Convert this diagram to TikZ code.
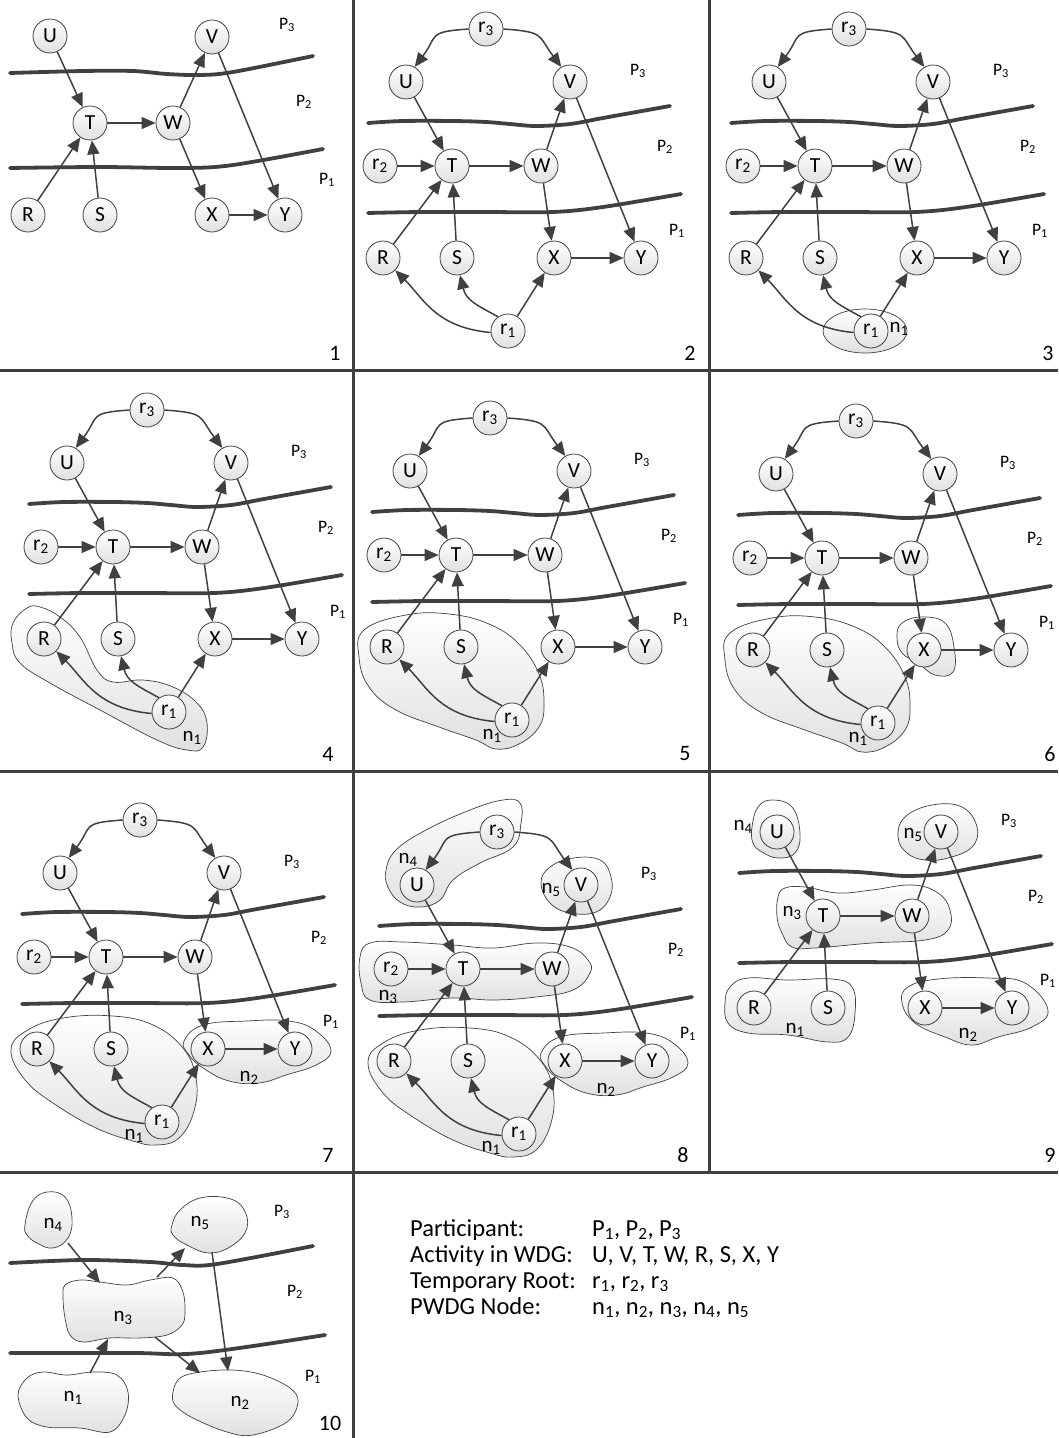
\documentclass[tikz,border=0pt]{standalone}
\usepackage{fontspec}
\setmainfont{Carlito}
\usetikzlibrary{arrows.meta}
\definecolor{dk}{RGB}{64,64,64}
\tikzset{
 vnode/.style={circle, draw=dk, line width=0.8pt, minimum size=34pt, inner sep=0pt, top color=white, bottom color=black!12, font=\fontsize{21.5}{21.5}\selectfont},
 arr/.style={draw=dk, line width=1.5pt, -{Triangle[length=14pt,width=12pt]}},
 part/.style={draw=dk, line width=3.8pt, line cap=round},
 gridline/.style={draw=dk, line width=3pt},
 blob/.style={draw=dk, line width=0.7pt, top color=white, bottom color=black!12},
 plab/.style={font=\fontsize{17.5}{17.5}\selectfont, inner sep=0pt},
 nlab/.style={font=\fontsize{21}{21}\selectfont, inner sep=0pt},
 num/.style={font=\fontsize{22}{22}\selectfont, inner sep=0pt},
 leg/.style={font=\fontsize{24.5}{24.5}\selectfont, inner sep=0pt, anchor=base west},
}
\newcommand{\wdgbase}[1]{%
 \draw[part] plot[smooth,tension=0.55] coordinates {(-84,-43) (-49,-45) (1,-45) (34,-44) (58,-42) (84,-40) (118,-42) (151,-48) (218,-60)};
 \draw[part] plot[smooth,tension=0.55] coordinates {(-84,47) (-32,46) (34,46) (101,46) (151,41) (229,28)};
 \node[plab] (#1P3) at (186,-95) {P\textsubscript{3}};
 \node[plab] (#1P2) at (213,-19) {P\textsubscript{2}};
 \node[plab] (#1P1) at (225,65) {P\textsubscript{1}};
}
\newcommand{\wdgcore}[1]{%
 \node[vnode] (#1U) at (-46,-84) {U};
 \node[vnode] (#1V) at (118,-84) {V};
 \node[vnode] (#1T) at (0,0) {T};
 \node[vnode] (#1W) at (89,0) {W};
 \node[vnode] (#1R) at (-69,92) {R};
 \node[vnode] (#1S) at (5,92) {S};
 \node[vnode] (#1X) at (102,92) {X};
 \node[vnode] (#1Y) at (189,92) {Y};
 \draw[arr] (#1U) -- (#1T);
 \draw[arr] (#1R) -- (#1T);
 \draw[arr] (#1S) -- (#1T);
 \draw[arr] (#1T) -- (#1W);
 \draw[arr] (#1W) -- (#1V);
 \draw[arr] (#1W) -- (#1X);
 \draw[arr] (#1V) -- (#1Y);
 \draw[arr] (#1X) -- (#1Y);
}
\newcommand{\wdgroots}[1]{%
 \node[vnode] (#1ra) at (56,165) {r\textsubscript{1}};
 \node[vnode] (#1rb) at (-72,0) {r\textsubscript{2}};
 \node[vnode] (#1rc) at (34,-137) {r\textsubscript{3}};
 \draw[arr] (#1rb) -- (#1T);
 \draw[arr] (#1rc.west) .. controls +(-42,3) and +(24,-32) .. (#1U.60);
 \draw[arr] (#1rc.east) .. controls +(42,3) and +(-24,-32) .. (#1V.120);
 \draw[arr] (#1ra.185) .. controls +(-55,-5) and +(28,28) .. (#1R.-45);
 \draw[arr] (#1ra.125) .. controls +(-22,-12) and +(6,25) .. (#1S.-80);
 \draw[arr] (#1ra) -- (#1X);
}
\newcommand{\blobAfour}{\draw[blob] plot[smooth cycle,tension=0.7] coordinates {(-100,76) (-86,61) (-73,60) (-53,70) (-33,90) (-16,123) (0,135) (30,133) (60,140) (84,156) (94,176) (90,200) (74,203) (44,193) (-13,163) (-63,136) (-93,116) (-101,96)};}
\newcommand{\blobAfive}{\draw[blob] plot[smooth cycle,tension=0.7] coordinates {(-92,75) (-50,60) (-7,59) (33,69) (63,89) (83,119) (88,149) (83,172) (63,189) (40,194) (20,185) (-17,172) (-60,155) (-87,132) (-97,102)};}
\newcommand{\blobAseven}{\draw[blob] plot[smooth cycle,tension=0.7] coordinates {(-95,94) (-80,74) (-43,61) (7,59) (47,68) (77,91) (90,121) (88,154) (73,181) (50,188) (27,184) (-10,171) (-50,148) (-80,124)};}
\newcommand{\blobB}{\draw[blob] plot[smooth cycle,tension=0.7] coordinates {(78,84) (97,68) (140,64) (183,64) (210,74) (225,94) (210,108) (180,118) (153,126) (123,124) (97,111) (83,98)};}
\begin{document}
\begin{tikzpicture}[x=1pt,y=-1pt]
\useasboundingbox (0,0) rectangle (1058,1438);
% grid
\draw[gridline] (353,0) -- (353,1438);
\draw[gridline] (709,0) -- (709,1172);
\draw[gridline] (0,370) -- (1058,370);
\draw[gridline] (0,771) -- (1058,771);
\draw[gridline] (0,1172) -- (1058,1172);
% panel numbers
\node[num] (k1) at (335,353) {1};
\node[num] (k2) at (690,353) {2};
\node[num] (k3) at (1048,353) {3};
\node[num] (k4) at (328,754) {4};
\node[num] (k5) at (685,754) {5};
\node[num] (k6) at (1050,754) {6};
\node[num] (k7) at (328,1155) {7};
\node[num] (k8) at (683,1155) {8};
\node[num] (k9) at (1050,1155) {9};
\node[num] (k10) at (330,1423) {10};
% ---------- panel 1
\draw[part] plot[smooth,tension=0.55] coordinates {(10,73) (83,71) (133,71) (167,74) (200,75) (233,72) (313,56)};
\draw[part] plot[smooth,tension=0.55] coordinates {(10,168) (100,167) (183,168) (233,165) (323,149)};
\node[plab] (aP3) at (287,25) {P\textsubscript{3}};
\node[plab] (aP2) at (304,102) {P\textsubscript{2}};
\node[plab] (aP1) at (327,180) {P\textsubscript{1}};
\node[vnode] (aU) at (50,36) {U};
\node[vnode] (aV) at (212,37) {V};
\node[vnode] (aT) at (90,123) {T};
\node[vnode] (aW) at (173,123) {W};
\node[vnode] (aR) at (28,215) {R};
\node[vnode] (aS) at (100,215) {S};
\node[vnode] (aX) at (212,215) {X};
\node[vnode] (aY) at (285,215) {Y};
\draw[arr] (aU) -- (aT);
\draw[arr] (aR) -- (aT);
\draw[arr] (aS) -- (aT);
\draw[arr] (aT) -- (aW);
\draw[arr] (aW) -- (aV);
\draw[arr] (aW) -- (aX);
\draw[arr] (aV) -- (aY);
\draw[arr] (aX) -- (aY);
% ---------- panel 2
\begin{scope}[shift={(452,166)}]
\wdgbase{b}
\wdgcore{b}
\wdgroots{b}
\end{scope}
% ---------- panel 3
\begin{scope}[shift={(815,166)}]
\wdgbase{c}
\draw[blob] (50,165) ellipse [x radius=42, y radius=22];
\node[nlab] (cn1) at (84,163) {n\textsubscript{1}};
\wdgcore{c}
\wdgroots{c}
\end{scope}
% ---------- panel 4
\begin{scope}[shift={(113,547)}]
\wdgbase{d}
\blobAfour
\node[nlab] (dn1) at (79,191) {n\textsubscript{1}};
\wdgcore{d}
\wdgroots{d}
\end{scope}
% ---------- panel 5
\begin{scope}[shift={(456,555)}]
\wdgbase{e}
\blobAfive
\node[nlab] (en1) at (36,181) {n\textsubscript{1}};
\wdgcore{e}
\wdgroots{e}
\end{scope}
% ---------- panel 6
\begin{scope}[shift={(822,558)}]
\wdgbase{f}
\blobAfive
\node[nlab] (fn1) at (36,181) {n\textsubscript{1}};
\draw[blob] plot[smooth cycle,tension=0.7] coordinates {(80,65) (100,59) (123,65) (132,89) (131,114) (113,117) (96,105) (80,95) (75,79)};
\wdgcore{f}
\wdgroots{f}
\end{scope}
% ---------- panel 7
\begin{scope}[shift={(106,957)}]
\wdgbase{g}
\blobAseven
\node[nlab] (gn1) at (28,179) {n\textsubscript{1}};
\blobB
\node[nlab] (gn2) at (143,121) {n\textsubscript{2}};
\wdgcore{g}
\wdgroots{g}
\end{scope}
% ---------- panel 8
\begin{scope}[shift={(463,969)}]
\wdgbase{h}
\blobAseven
\node[nlab] (hn1) at (28,179) {n\textsubscript{1}};
\blobB
\node[nlab] (hn2) at (143,121) {n\textsubscript{2}};
\draw[blob] plot[smooth cycle,tension=0.7] coordinates {(-103,-12) (-93,-26) (-60,-27) (-10,-24) (30,-21) (73,-26) (107,-22) (125,-9) (127,4) (110,21) (73,28) (30,31) (-10,29) (-60,33) (-93,31) (-102,14)};
\node[nlab] (hn3) at (-75,28) {n\textsubscript{3}};
\draw[blob] plot[smooth cycle,tension=0.7] coordinates {(-77,-99) (-67,-119) (-37,-139) (7,-159) (40,-169) (57,-166) (58,-146) (50,-122) (17,-106) (-10,-89) (-23,-69) (-43,-62) (-63,-67) (-75,-82)};
\node[nlab] (hn4) at (-55,-109) {n\textsubscript{4}};
\draw[blob] plot[smooth cycle,tension=0.7] coordinates {(78,-86) (87,-102) (110,-111) (137,-109) (148,-92) (147,-72) (133,-57) (107,-56) (87,-66)};
\node[nlab] (hn5) at (88,-79) {n\textsubscript{5}};
\wdgcore{h}
\wdgroots{h}
\end{scope}
% ---------- panel 9
\begin{scope}[shift={(823,916)}]
\wdgbase{i}
\draw[blob] plot[smooth cycle,tension=0.7] coordinates {(-71,-89) (-65,-109) (-51,-116) (-31,-109) (-23,-83) (-28,-63) (-45,-58) (-61,-64) (-70,-73)};
\node[nlab] (in4) at (-80,-89) {n\textsubscript{4}};
\draw[blob] plot[smooth cycle,tension=0.7] coordinates {(75,-79) (82,-99) (109,-111) (139,-109) (154,-89) (149,-69) (125,-58) (102,-56) (84,-63)};
\node[nlab] (in5) at (90,-81) {n\textsubscript{5}};
\draw[blob] plot[smooth cycle,tension=0.7] coordinates {(-45,-19) (-38,-28) (-18,-29) (15,-23) (49,-26) (89,-31) (115,-23) (127,-6) (125,14) (102,24) (49,27) (-8,32) (-31,31) (-41,17) (-46,1)};
\node[nlab] (in3) at (-31,-3) {n\textsubscript{3}};
\draw[blob] plot[smooth cycle,tension=0.7] coordinates {(-98,87) (-93,71) (-75,62) (-35,64) (9,63) (29,71) (32,97) (25,121) (5,126) (-35,119) (-75,117) (-95,107)};
\node[nlab] (in1) at (-28,114) {n\textsubscript{1}};
\draw[blob] plot[smooth cycle,tension=0.7] coordinates {(79,87) (85,71) (115,63) (165,62) (202,67) (225,94) (209,111) (175,121) (149,129) (122,121) (92,107)};
\node[nlab] (in2) at (145,119) {n\textsubscript{2}};
\wdgcore{i}
\end{scope}
% ---------- panel 10
\draw[part] plot[smooth,tension=0.55] coordinates {(10,1263) (83,1260) (150,1262) (183,1265) (217,1264) (313,1246)};
\draw[part] plot[smooth,tension=0.55] coordinates {(10,1353) (133,1353) (200,1353) (325,1335)};
\node[plab] (jP3) at (282,1212) {P\textsubscript{3}};
\node[plab] (jP2) at (295,1292) {P\textsubscript{2}};
\node[plab] (jP1) at (313,1377) {P\textsubscript{1}};
\draw[blob] plot[smooth cycle,tension=0.7] coordinates {(25,1225) (32,1202) (47,1192) (65,1197) (72,1218) (68,1238) (53,1248) (37,1243) (27,1235)};
\node[nlab] (jn4) at (53,1225) {n\textsubscript{4}};
\draw[blob] plot[smooth cycle,tension=0.7] coordinates {(172,1225) (180,1210) (200,1198) (227,1198) (243,1208) (247,1228) (233,1245) (210,1253) (187,1245) (173,1235)};
\node[nlab] (jn5) at (200,1223) {n\textsubscript{5}};
\draw[blob] plot[smooth cycle,tension=0.6] coordinates {(65,1285) (80,1280) (100,1282) (127,1285) (150,1280) (173,1278) (183,1292) (185,1312) (182,1325) (167,1335) (140,1338) (110,1338) (83,1342) (70,1335) (65,1318) (63,1298)};
\node[nlab] (jn3) at (123,1318) {n\textsubscript{3}};
\draw[blob] plot[smooth cycle,tension=0.6] coordinates {(18,1395) (27,1378) (43,1372) (67,1375) (93,1372) (117,1375) (128,1392) (125,1415) (110,1432) (80,1428) (47,1427) (27,1418)};
\node[nlab] (jn1) at (73,1398) {n\textsubscript{1}};
\draw[blob] plot[smooth cycle,tension=0.6] coordinates {(173,1392) (180,1378) (200,1372) (233,1370) (263,1375) (290,1388) (298,1402) (287,1422) (253,1435) (227,1432) (193,1418) (175,1405)};
\node[nlab] (jn2) at (240,1403) {n\textsubscript{2}};
\coordinate (j4o) at (68,1243);
\coordinate (j3a) at (100,1283);
\coordinate (j3b) at (157,1277);
\coordinate (j5i) at (185,1248);
\coordinate (j5o) at (212,1252);
\coordinate (j2a) at (228,1371);
\coordinate (j3c) at (155,1337);
\coordinate (j2b) at (200,1373);
\coordinate (j1o) at (90,1373);
\coordinate (j3d) at (108,1339);
\draw[arr] (j4o) -- (j3a);
\draw[arr] (j3b) -- (j5i);
\draw[arr] (j5o) -- (j2a);
\draw[arr] (j3c) -- (j2b);
\draw[arr] (j1o) -- (j3d);
% ---------- legend
\node[leg] (l1a) at (410,1236) {Participant:};
\node[leg] (l1b) at (592,1236) {P\textsubscript{1}, P\textsubscript{2}, P\textsubscript{3}};
\node[leg] (l2a) at (410,1262) {Activity in WDG:};
\node[leg] (l2b) at (592,1262) {U, V, T, W, R, S, X, Y};
\node[leg] (l3a) at (410,1288) {Temporary Root:};
\node[leg] (l3b) at (592,1288) {r\textsubscript{1}, r\textsubscript{2}, r\textsubscript{3}};
\node[leg] (l4a) at (410,1314) {PWDG Node:};
\node[leg] (l4b) at (592,1314) {n\textsubscript{1}, n\textsubscript{2}, n\textsubscript{3}, n\textsubscript{4}, n\textsubscript{5}};
\end{tikzpicture}
\end{document}
